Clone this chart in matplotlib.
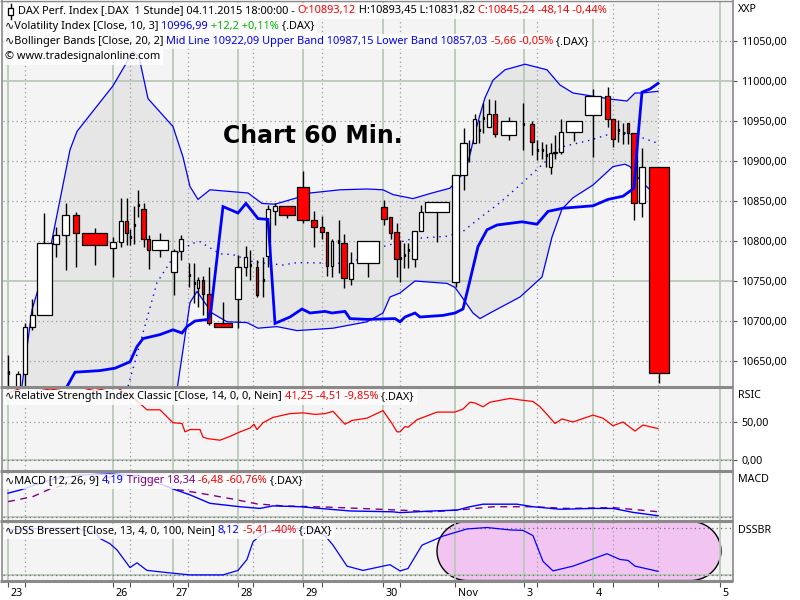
import numpy as np
import matplotlib
matplotlib.use("Agg")
import matplotlib.pyplot as plt
from matplotlib.patches import Rectangle, Polygon
from matplotlib.lines import Line2D
from matplotlib.transforms import ScaledTranslation

plt.rcParams['font.family'] = ['Noto Sans', 'DejaVu Sans']

# ---------------- data ----------------
# candle time position on the chart's time axis and the time span it covers
candle_x = [8, 18, 25, 32, 44, 56, 65.5, 76, 94.5, 113, 121, 126.5, 130, 134, 138, 143.5, 148.5, 160, 174, 181,
            189, 194, 198, 203, 209, 223, 238, 245.5, 250, 257, 263, 268, 275, 287, 303, 314, 322, 327, 332, 338.5,
            344, 351, 368, 384, 390.5, 396.5, 400, 404, 408, 414.5, 421, 437, 455.5, 463.5, 469, 474.5, 479, 483, 489, 495,
            508.5, 523, 532, 537, 542, 546, 550.5, 555, 561, 574, 593, 607.5, 613, 618, 623, 628, 634, 642, 659]
candle_span = [1, 4, 4, 5, 15, 6, 7, 5.5, 25, 5.5, 4, 2.5, 1, 1, 1, 4.5, 2.5, 16, 6, 4,
               1, 1, 2.5, 2.5, 4, 18, 6, 2.5, 1, 2.5, 1, 3.5, 4, 16, 12, 6, 4, 2, 2, 1,
               6, 4, 22, 6, 2.5, 4.5, 1, 1, 1, 4.5, 4, 24, 7.5, 6.5, 1, 2.5, 1, 1, 4, 4,
               15, 1, 4, 1, 1, 1, 3, 4, 4, 16, 16, 5.5, 4, 1, 1, 2, 6, 6, 20]
candle_open = [10634, 10611, 10634, 10693, 10708, 10796, 10808, 10833, 10810, 10791, 10799, 10825, 10806, 10821, 10846, 10840, 10803, 10789, 10761, 10788,
               10759, 10749, 10741, 10751, 10734, 10698, 10728, 10768, 10771, 10767, 10753, 10781, 10838, 10844, 10867, 10826, 10818, 10811, 10769, 10801,
               10798, 10753, 10773, 10842, 10830, 10811, 10780, 10784, 10790, 10778, 10812, 10836, 10749, 10883, 10915, 10923, 10940, 10955, 10943, 10959,
               10933, 10948, 10946, 10915, 10915, 10909, 10893, 10910, 10911, 10936, 10957, 10981, 10953, 10940, 10936, 10947, 10935, 10847, 10893]
candle_high = [10658, 10638, 10698, 10728, 10835, 10818, 10848, 10836, 10816, 10805, 10854, 10854, 10815, 10844, 10864, 10848, 10808, 10810, 10790, 10808,
               10773, 10773, 10755, 10756, 10768, 10724, 10783, 10794, 10789, 10776, 10780, 10845, 10848, 10844, 10888, 10837, 10831, 10811, 10803, 10826,
               10809, 10786, 10800, 10851, 10830, 10822, 10801, 10797, 10797, 10812, 10845, 10849, 10882, 10941, 10926, 10959, 10951, 10972, 10977, 10976,
               10955, 10972, 10950, 10926, 10924, 10921, 10922, 10932, 10953, 10950, 10990, 10993, 10953, 10951, 10947, 10947, 10935, 10916, 10893]
candle_low = [10600, 10600, 10616, 10689, 10707, 10780, 10764, 10768, 10770, 10755, 10793, 10795, 10795, 10796, 10830, 10793, 10765, 10780, 10732, 10776,
              10743, 10723, 10718, 10708, 10695, 10692, 10691, 10756, 10751, 10730, 10730, 10768, 10820, 10829, 10822, 10793, 10802, 10756, 10755, 10760,
              10741, 10745, 10755, 10820, 10803, 10755, 10749, 10766, 10766, 10767, 10812, 10799, 10743, 10864, 10899, 10922, 10922, 10935, 10942, 10930,
              10926, 10914, 10908, 10901, 10903, 10893, 10884, 10903, 10909, 10925, 10905, 10942, 10917, 10924, 10921, 10921, 10826, 10830, 10622]
candle_close = [10638, 10634, 10693, 10708, 10798, 10807, 10833, 10810, 10795, 10799, 10825, 10810, 10804, 10819, 10844, 10803, 10789, 10801, 10788, 10803,
                10756, 10746, 10751, 10734, 10698, 10693, 10768, 10780, 10769, 10732, 10750, 10840, 10844, 10832, 10826, 10818, 10811, 10769, 10800, 10798,
                10754, 10773, 10800, 10828, 10810, 10778, 10778, 10781, 10788, 10812, 10836, 10849, 10882, 10923, 10913, 10952, 10938, 10953, 10959, 10934,
                10950, 10945, 10924, 10913, 10913, 10906, 10910, 10911, 10936, 10950, 10981, 10953, 10928, 10938, 10934, 10935, 10848, 10893, 10635]

# Bollinger bands (20, 2)
upper_x = [20, 22, 32, 37, 50, 70, 77, 113, 128, 133, 139, 148, 173, 183, 190, 198, 210, 248, 262, 275, 297, 310, 340, 367,
           383, 393, 413, 432, 450, 465, 470, 475, 480, 485, 493, 505, 525, 547, 560, 573, 613, 627, 635, 642, 658]
upper_v = [10590, 10619, 10714, 10735, 10789, 10914, 10937, 10994, 11026, 11037, 11030, 10978, 10943, 10905, 10868, 10852,
           10864, 10860, 10847, 10846, 10854, 10860, 10864, 10865, 10864, 10858, 10853, 10860, 10866, 10887, 10908, 10935,
           10958, 10979, 11001, 11014, 11021, 11014, 10995, 10985, 10977, 10975, 10985, 10985, 10987.15]
lower_x = [20, 60, 120, 160, 177, 183, 190, 197, 212, 227, 247, 258, 277, 297, 333, 367, 383, 390, 400, 415, 447, 455,
           463, 473, 480, 490, 520, 542, 552, 562, 573, 593, 613, 625, 630, 640, 650, 658]
lower_v = [10560, 10470, 10430, 10530, 10614, 10664, 10723, 10737, 10710, 10699, 10698, 10691, 10693, 10688, 10691, 10699,
           10710, 10730, 10735, 10750, 10747, 10742, 10728, 10710, 10703, 10710, 10730, 10755, 10805, 10840, 10854, 10870,
           10893, 10896, 10893, 10876, 10864, 10857.03]
mid_x = [118, 128, 157, 175, 192, 200, 220, 233, 253, 283, 297, 350, 383, 413, 447, 463, 480, 500, 520, 547, 563, 590,
         608, 627, 640, 658]
mid_v = [10590, 10618, 10748, 10783, 10797, 10799, 10784, 10783, 10774, 10770, 10773, 10772, 10793, 10803, 10806, 10812,
         10829, 10848, 10870, 10901, 10918, 10926, 10933, 10935, 10930, 10922.09]

# Volatility Index (10, 3)
vol_x = [62, 67, 75, 100, 115, 130, 137, 143, 160, 173, 182, 187, 195, 208, 211, 223, 238, 246, 258, 268, 275, 290, 302,
         310, 325, 332, 345, 350, 367, 395, 400, 405, 415, 420, 443, 455, 463, 470, 478, 487, 497, 522, 537, 548, 563,
         593, 608, 623, 634, 638, 642, 650, 658]
vol_v = [10605, 10618, 10636, 10638, 10641, 10649, 10668, 10678, 10683, 10689, 10685, 10693, 10700, 10702, 10714, 10843,
         10835, 10847, 10828, 10827, 10697, 10705, 10715, 10710, 10712, 10710, 10712, 10703, 10702, 10703, 10699, 10705,
         10710, 10705, 10707, 10710, 10715, 10751, 10793, 10814, 10820, 10824, 10821, 10837, 10841, 10844, 10852, 10856,
         10866, 10930, 10986, 10990, 10996.99]

# RSI classic (14)
rsi_x = [8, 20, 30, 50, 75, 95, 115, 135, 147, 160, 173, 182, 185, 190, 200, 203, 208, 220, 230, 240, 250, 254, 257, 263,
         273, 290, 303, 315, 325, 333, 345, 352, 367, 383, 392, 397, 400, 405, 408, 417, 437, 455, 463, 470, 475, 483, 490,
         510, 520, 533, 540, 547, 555, 562, 573, 593, 603, 613, 623, 635, 643, 658]
rsi_v = [88, 94, 97, 92, 97, 91, 97, 80, 66, 66, 49, 48, 37, 40, 40, 30, 28, 26, 31, 37, 42, 47, 40, 49, 56, 61, 62, 60,
         61, 64, 47, 52, 55, 65, 48, 37, 37, 44, 43, 53, 63, 63, 67, 76, 75, 70, 76, 81, 79, 77, 70, 60, 48, 54, 50, 59,
         55, 45, 50, 38, 46, 41.25]

# MACD (12, 26, 9)
macd_x = [8, 20, 50, 80, 110, 140, 173, 190, 210, 240, 260, 273, 300, 350, 393, 400, 433, 457, 470, 483, 517, 533, 560,
          593, 613, 633, 658]
macd_v = [84, 95, 131, 148, 152, 145, 99, 78, 48, 36, 30, 39, 36, 21, 18, 15, 21, 24, 36, 45, 45, 36, 27, 30, 30, 16, 4.19]
trig_x = [8, 33, 50, 80, 110, 140, 173, 200, 233, 257, 283, 333, 400, 433, 467, 493, 533, 567, 613, 658]
trig_v = [54, 72, 99, 127, 141, 145, 99, 84, 63, 46, 39, 34, 24, 18, 27, 36, 36, 30, 33, 18.34]

# DSS Bressert (13, 4)
dss_x = [8, 40, 70, 95, 100, 110, 117, 130, 137, 147, 167, 190, 223, 238, 247, 253, 260, 267, 290, 310, 325, 333, 347,
         363, 383, 390, 400, 408, 422, 443, 467, 487, 510, 523, 533, 543, 553, 573, 607, 620, 628, 635, 658]
dss_v = [95, 98, 99, 90, 77, 66, 53, 16, 26, 10, 5.5, 0.6, 0.6, 10, 33, 70, 83, 90, 97, 99, 83, 63, 19, 10, 19, 22, 9,
         14, 63, 82, 97, 100, 95, 94, 83, 29, 9, 19, 45, 33, 31, 19, 8.12]

# time axis
day_x = [8, 113, 173, 238, 303, 383, 455, 524, 593, 720]
day_labels = ['23', '26', '27', '28', '29', '30', 'Nov', '3', '4', '5']
session_x = [25, 130, 188, 253, 322, 400, 537, 613, 658]

price_ticks = [10650, 10700, 10750, 10800, 10850, 10900, 10950, 11000, 11050]
price_tick_labels = ['10650,00', '10700,00', '10750,00', '10800,00', '10850,00', '10900,00', '10950,00', '11000,00', '11050,00']
price_solid = [11000, 10750]
rsi_ticks = [0, 50]
rsi_tick_labels = ['0,00', '50,00']

# ---------------- styling ----------------
W, H = 800, 600
BG = '#f4f4f4'
FILL = '#e6e6e6'
GRID = '#b9c9b9'
DOT = '#9a9a9a'
SEP = '#8a8a8a'
FS = 7.9      # legend/label text
FT = 7.7      # axis tick text
RED = '#ff0000'
BLUE = '#0000ff'
GREEN = '#00b400'
PURPLE = '#800080'

fig = plt.figure(figsize=(8, 6), dpi=100)
fig.patch.set_facecolor('white')


def fx(px):
    return px / W


def fy(py):
    return 1 - py / H


X0, X1 = 3, 733


def make_ax(top, bottom, ylim):
    ax = fig.add_axes([fx(X0), fy(bottom), (X1 - X0) / W, (bottom - top) / H])
    ax.set_xlim(X0, X1)
    ax.set_ylim(*ylim)
    ax.set_facecolor(BG)
    for s in ax.spines.values():
        s.set_visible(False)
    ax.tick_params(axis='x', which='both', bottom=False, labelbottom=False)
    ax.tick_params(axis='y', which='both', left=False, labelleft=False, right=False, labelright=False)
    for d in day_x:
        ax.axvline(d, color=GRID, lw=1.3, zorder=1)
    for s in session_x:
        ax.axvline(s, color=DOT, lw=0.9, ls=(0, (1, 2.5)), zorder=1)
    return ax


def right_ticks(ax, ticks, labels):
    ax.yaxis.tick_right()
    ax.set_yticks(ticks)
    ax.set_yticklabels(labels)
    ax.tick_params(axis='y', right=True, labelright=True, length=3, width=0.8, color='#505050',
                   labelsize=FT, pad=3, labelcolor='black')


# ---- main price pane ----
ax = make_ax(1, 386, (10618.75, 11100))
right_ticks(ax, price_ticks, price_tick_labels)
for p in price_ticks:
    if p in price_solid:
        ax.axhline(p, color=GRID, lw=1.3, zorder=1)
    else:
        ax.axhline(p, color=DOT, lw=0.9, ls=(0, (1, 2.5)), zorder=1)

band_poly = np.column_stack([np.r_[upper_x, lower_x[::-1]], np.r_[upper_v, lower_v[::-1]]])
ax.add_patch(Polygon(band_poly, closed=True, fc=FILL, ec='none', zorder=0.5))
ax.plot(upper_x, upper_v, color=BLUE, lw=0.9, zorder=2)
ax.plot(lower_x, lower_v, color=BLUE, lw=0.9, zorder=2)
ax.plot(mid_x, mid_v, color=BLUE, lw=1.0, ls=(0, (1, 3.5)), zorder=2)

o = np.array(candle_open, float)
c = np.array(candle_close, float)
colors = [RED if cc < oo else 'white' for oo, cc in zip(o, c)]
ax.vlines(candle_x, candle_low, candle_high, colors='black', lw=1.0, zorder=2.9)
ax.bar(candle_x, np.abs(c - o), bottom=np.minimum(o, c), width=candle_span, color=colors,
       edgecolor='black', linewidth=0.9, zorder=3)
ax.plot(vol_x, vol_v, color=BLUE, lw=2.0, zorder=4, solid_joinstyle='miter')

fig.text(fx(313), fy(136), 'Chart 60 Min.', fontsize=17, fontweight='bold', family='DejaVu Sans',
         ha='center', va='center', color='black', zorder=5)

# ---- RSI pane ----
ax_r = make_ax(388, 470, (-13.2, 94.7))
right_ticks(ax_r, rsi_ticks, rsi_tick_labels)
ax_r.axhline(50, color=DOT, lw=0.9, ls=(0, (1, 2.5)), zorder=1)
ax_r.axhline(0, color=GRID, lw=1.3, zorder=1)
ax_r.axhline(0, color='#707070', lw=0.9, ls=(0, (1, 2.5)), zorder=1.1)
ax_r.plot(rsi_x, rsi_v, color=RED, lw=0.9, zorder=3)

# ---- MACD pane ----
ax_m = make_ax(472, 520, (-11, 159))
ax_m.axhline(0, color=GRID, lw=1.3, zorder=1)
ax_m.axhline(0, color='#707070', lw=0.9, ls=(0, (1, 2.5)), zorder=1.1)
ax_m.plot(trig_x, trig_v, color=PURPLE, lw=1.0, ls=(0, (5, 4)), zorder=3)
ax_m.plot(macd_x, macd_v, color=BLUE, lw=1.0, zorder=3.1)

# ---- DSS pane ----
ax_d = make_ax(522, 580, (-10.1, 111.6))
ax_d.axhline(100, color='#707070', lw=0.9, ls=(0, (1, 2.5)), zorder=1.1)
ax_d.axhline(0, color=GRID, lw=1.3, zorder=1)
ax_d.axhline(0, color='#707070', lw=0.9, ls=(0, (1, 2.5)), zorder=1.1)
t1 = np.linspace(np.pi / 2, 3 * np.pi / 2, 60)
t2 = np.linspace(-np.pi / 2, np.pi / 2, 60)
cxl, cxr, rx, cy, ry = 467.5, 690.5, 30.5, 50.7, 62
stad = np.vstack([np.column_stack([cxl + rx * np.cos(t1), cy + ry * np.sin(t1)]),
                  np.column_stack([cxr + rx * np.cos(t2), cy + ry * np.sin(t2)])])
ax_d.add_patch(Polygon(stad, closed=True, fc='#f2c4f2', ec='black', lw=1.0, zorder=0.8))
ax_d.plot(dss_x, dss_v, color=BLUE, lw=0.9, zorder=3)

# time axis on bottom pane
ax_d.set_xticks(day_x)
ax_d.set_xticks(session_x, minor=True)
ax_d.set_xticklabels(day_labels, ha='left')
ax_d.tick_params(axis='x', which='both', bottom=True, labelbottom=True, direction='out', length=5,
                 width=0.8, color='#505050', labelsize=FT, pad=0.5)
for lab in ax_d.get_xticklabels():
    lab.set_transform(lab.get_transform() + ScaledTranslation(2 / 72, 0, fig.dpi_scale_trans))

# ---- frame lines ----
def fline(x0, y0, x1, y1, lw, color, z=4.5):
    fig.add_artist(Line2D([fx(x0), fx(x1)], [fy(y0), fy(y1)], transform=fig.transFigure,
                          color=color, lw=lw, zorder=z, solid_capstyle='butt'))

for ysep in [387, 471, 521, 581]:
    fline(0, ysep, 733, ysep, 2.2, SEP)
fline(1.5, 0, 1.5, 582, 1.2, SEP)
fline(0, 0.5, 733, 0.5, 1.0, SEP)
fline(733, 0, 733, 582, 1.2, SEP)

# ---- text labels ----
renderer = fig.canvas.get_renderer()


def text_w(s, size):
    t = fig.text(0, 0, s, fontsize=size)
    w = t.get_window_extent(renderer).width
    t.remove()
    return w


def label_line(x, y, segs, size=FS, bg_left=4):
    cur = x
    bar = text_w('|', size)
    for s, col in segs:
        fig.text(fx(cur), fy(y), s, color=col, fontsize=size, va='center', ha='left', zorder=6)
        cur += text_w(s + '|', size) - bar
    fig.add_artist(Rectangle((fx(bg_left), fy(y + 7.5)), (cur - bg_left + 3) / W, 15 / H,
                             transform=fig.transFigure, fc='white', ec='none', alpha=0.82, zorder=5.5))


label_line(18, 11, [('DAX Perf. Index [.DAX  1 Stunde] 04.11.2015 18:00:00 - ', 'black'), ('O:10893,12', RED),
                    (' H:10893,45 L:10831,82 ', 'black'), ('C:10845,24 -48,14 -0,44%', RED)])
# small candle icon in front of the first header line
fig.add_artist(Line2D([fx(10.5), fx(10.5)], [fy(4), fy(19)], transform=fig.transFigure, color='black', lw=1, zorder=6))
fig.add_artist(Rectangle((fx(8), fy(15)), 5 / W, 7 / H, transform=fig.transFigure, fc='white', ec='black', lw=0.9, zorder=6.1))

label_line(5, 26, [('∿Volatility Index [Close, 10, 3] ', 'black'), ('10996,99', BLUE), (' +12,2 +0,11%', GREEN),
                   (' {.DAX}', 'black')])
label_line(5, 41.5, [('∿Bollinger Bands [Close, 20, 2] ', 'black'),
                     ('Mid Line 10922,09 Upper Band 10987,15 Lower Band 10857,03', BLUE), (' -5,66 -0,05%', RED),
                     (' {.DAX}', 'black')])
label_line(5, 57, [('© www.tradesignalonline.com', 'black')])
label_line(5, 397, [('∿Relative Strength Index Classic [Close, 14, 0, 0, Nein] ', 'black'), ('41,25 -4,51 -9,85%', RED),
                    (' {.DAX}', 'black')])
label_line(5, 481, [('∿MACD [12, 26, 9] ', 'black'), ('4,19', BLUE), (' Trigger 18,34', PURPLE),
                    (' -6,48 -60,76%', RED), (' {.DAX}', 'black')])
label_line(5, 531, [('∿DSS Bressert [Close, 13, 4, 0, 100, Nein] ', 'black'), ('8,12', BLUE), (' -5,41 -40%', RED),
                    (' {.DAX}', 'black')])

for txt, yy in [('XXP', 10), ('RSIC', 396), ('MACD', 480), ('DSSBR', 530.5)]:
    fig.text(fx(738), fy(yy), txt, fontsize=FT, va='center', ha='left', color='black')

fig.savefig('out.png', dpi=100, facecolor='white')
